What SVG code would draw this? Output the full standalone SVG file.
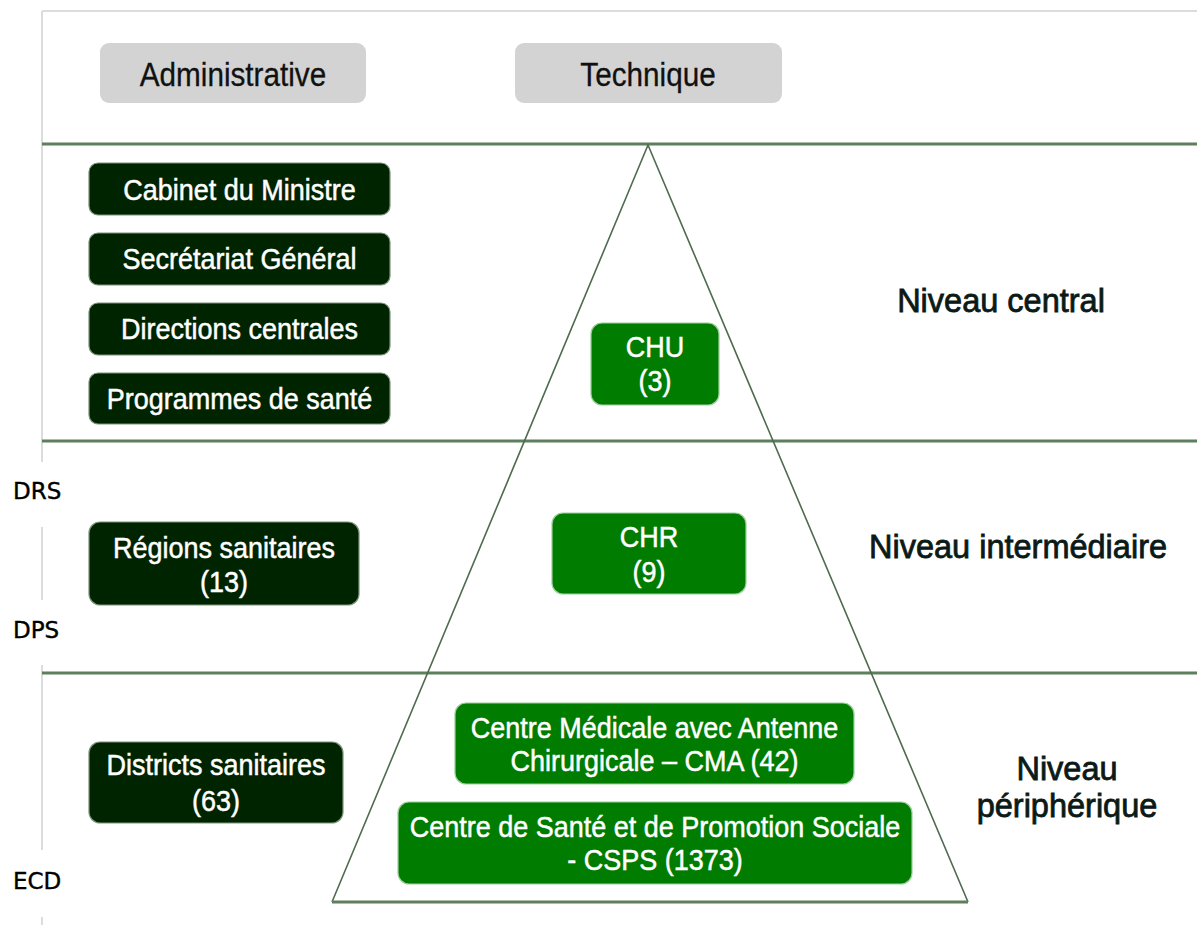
<svg xmlns="http://www.w3.org/2000/svg" width="1197" height="925" viewBox="0 0 1197 925">
<style>
text{font-family:"Liberation Sans",Arial,sans-serif;}
.hdr{fill:#d3d3d3;}
.hdrt{font-size:33px;fill:#111;text-anchor:middle;stroke:#111;stroke-width:0.3;}
.dk{fill:#012400;stroke:#7a937a;stroke-width:1.2;}
.gr{fill:#007c00;stroke:#9ccf9c;stroke-width:1.2;}
.bt{font-size:30px;fill:#fff;text-anchor:middle;stroke:#fff;stroke-width:0.5;}
.lvl{font-size:32.5px;fill:#0b1a16;text-anchor:middle;stroke:#0b1a16;stroke-width:0.8;}
.side{font-size:23px;fill:#000;stroke:#000;stroke-width:0.4;font-family:"DejaVu Sans","Liberation Sans",sans-serif;}
.hl{stroke:#5d7f5d;stroke-width:3;}
.frame{stroke:#dcdcdc;stroke-width:2;fill:none;}
</style>
<rect x="0" y="0" width="1197" height="925" fill="#fff"/>
<g id="frame">
<line class="frame" x1="42" y1="11" x2="1197" y2="11"/>
<line class="frame" x1="42" y1="11" x2="42" y2="462"/>
<line class="frame" x1="42" y1="527" x2="42" y2="600"/>
<line class="frame" x1="42" y1="665" x2="42" y2="850"/>
<line class="frame" x1="42" y1="917" x2="42" y2="925"/>
</g>
<g id="connectors">
<line class="hl" x1="42" y1="144" x2="1197" y2="144"/>
<line class="hl" x1="42" y1="441" x2="1197" y2="441"/>
<line class="hl" x1="42" y1="673" x2="1197" y2="673"/>
<polyline points="332,902 648,145 968,902" fill="none" stroke="#4f6b4f" stroke-width="1.6"/>
<line x1="332" y1="902" x2="968" y2="902" stroke="#5d7f5d" stroke-width="3"/>
</g>
<g id="hdr-admin">
<rect class="hdr" x="100" y="43" width="266" height="60" rx="9"/>
<text class="hdrt" transform="translate(233,86) scale(0.9,1)">Administrative</text>
</g>
<g id="hdr-tech">
<rect class="hdr" x="515" y="43" width="267" height="60" rx="9"/>
<text class="hdrt" transform="translate(648,86) scale(0.9,1)">Technique</text>
</g>
<g id="cabinet">
<rect class="dk" x="89" y="163" width="301" height="52" rx="9"/>
<text class="bt" transform="translate(239.5,200) scale(0.9,1)">Cabinet du Ministre</text>
</g>
<g id="secretariat">
<rect class="dk" x="89" y="233" width="301" height="52" rx="9"/>
<text class="bt" transform="translate(239.5,269) scale(0.9,1)">Secrétariat Général</text>
</g>
<g id="directions">
<rect class="dk" x="89" y="303" width="301" height="52" rx="9"/>
<text class="bt" transform="translate(239.5,339) scale(0.9,1)">Directions centrales</text>
</g>
<g id="programmes">
<rect class="dk" x="89" y="373" width="301" height="51" rx="9"/>
<text class="bt" transform="translate(239.5,409) scale(0.9,1)">Programmes de santé</text>
</g>
<g id="regions">
<rect class="dk" x="89" y="522" width="270" height="83" rx="11"/>
<text class="bt" transform="translate(224,558) scale(0.9,1)">Régions sanitaires</text>
<text class="bt" transform="translate(224,592) scale(0.9,1)">(13)</text>
</g>
<g id="districts">
<rect class="dk" x="89" y="742" width="254" height="81" rx="11"/>
<text class="bt" transform="translate(216,775) scale(0.9,1)">Districts sanitaires</text>
<text class="bt" transform="translate(216,811) scale(0.9,1)">(63)</text>
</g>
<g id="chu">
<rect class="gr" x="591" y="323" width="128" height="82" rx="11"/>
<text class="bt" transform="translate(655,357) scale(0.9,1)">CHU</text>
<text class="bt" transform="translate(655,391) scale(0.9,1)">(3)</text>
</g>
<g id="chr">
<rect class="gr" x="552" y="513" width="194" height="81" rx="11"/>
<text class="bt" transform="translate(649,547) scale(0.9,1)">CHR</text>
<text class="bt" transform="translate(649,582) scale(0.9,1)">(9)</text>
</g>
<g id="cma">
<rect class="gr" x="455" y="703" width="399" height="81" rx="11"/>
<text class="bt" transform="translate(654.5,738) scale(0.9,1)">Centre Médicale avec Antenne</text>
<text class="bt" transform="translate(654.5,771) scale(0.9,1)">Chirurgicale – CMA (42)</text>
</g>
<g id="csps">
<rect class="gr" x="398" y="802" width="514" height="82" rx="11"/>
<text class="bt" transform="translate(655,837) scale(0.9,1)">Centre de Santé et de Promotion Sociale</text>
<text class="bt" transform="translate(655,870) scale(0.9,1)">- CSPS (1373)</text>
</g>
<g id="niveau-central">
<text class="lvl" x="1001" y="312">Niveau central</text>
</g>
<g id="niveau-intermediaire">
<text class="lvl" x="1018" y="558">Niveau intermédiaire</text>
</g>
<g id="niveau-peripherique">
<text class="lvl" x="1067" y="780">Niveau</text>
<text class="lvl" x="1067" y="817">périphérique</text>
</g>
<g id="side-labels">
<text class="side" x="13" y="499">DRS</text>
<text class="side" x="13" y="638">DPS</text>
<text class="side" x="13" y="889">ECD</text>
</g>
</svg>
